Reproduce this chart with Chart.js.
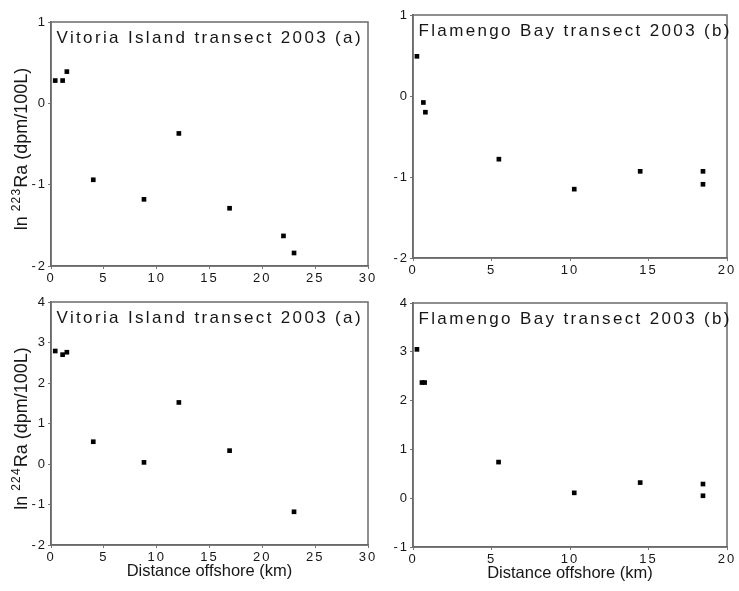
<!DOCTYPE html>
<html>
<head>
<meta charset="utf-8">
<script src="https://cdn.jsdelivr.net/npm/chart.js@4"></script>
<style>
  html, body { margin: 0; padding: 0; background: #fff; }
  body { width: 739px; height: 591px; position: relative; overflow: hidden; }
  canvas { position: absolute; }
</style>
</head>
<body>
<canvas id="vit223" width="380" height="290" style="left:0;top:0"></canvas>
<canvas id="flam223" width="369" height="290" style="left:370px;top:0"></canvas>
<canvas id="vit224" width="380" height="301" style="left:0;top:290px"></canvas>
<canvas id="flam224" width="369" height="301" style="left:370px;top:290px"></canvas>
<script>
// Distance offshore (km) and ln Ra (dpm/100L)
const vitDist223 = [0.4, 1.1, 1.5, 4.0, 8.8, 12.1, 16.9, 22.0, 23.0];
const vitRa223 = [0.28, 0.28, 0.39, -0.94, -1.18, -0.37, -1.29, -1.63, -1.84];
const vitDist224 = [0.4, 1.1, 1.5, 4.0, 8.8, 12.1, 16.9, 23.0];
const vitRa224 = [2.79, 2.70, 2.76, 0.55, 0.04, 1.52, 0.33, -1.18];

const flamDist223 = [0.25, 0.66, 0.79, 5.47, 10.27, 14.47, 18.47, 18.47];
const flamRa223 = [0.49, -0.08, -0.20, -0.78, -1.15, -0.93, -0.93, -1.09];
const flamDist224 = [0.25, 0.57, 0.74, 5.45, 10.27, 14.47, 18.47, 18.47];
const flamRa224 = [3.05, 2.37, 2.37, 0.74, 0.11, 0.32, 0.29, 0.05];

const vitTicksX = [0, 30];
const flamTicksX = [0, 20];

const fam = "'Liberation Sans', Arial, sans-serif";
const textColor = "#161616";

// frame, panel title and axis titles drawn after the chart
const panelText = {
  id: "panelText",
  beforeDraw(chart) {
    chart.ctx.letterSpacing = "2px";
  },
  afterDraw(chart, args, opts) {
    const { ctx, chartArea: a } = chart;
    ctx.save();
    ctx.strokeStyle = "#6a6a6a";
    ctx.lineWidth = 1.5;
    ctx.strokeRect(a.left, a.top, a.right - a.left, a.bottom - a.top);

    ctx.fillStyle = textColor;
    ctx.textBaseline = "alphabetic";
    ctx.textAlign = "left";
    ctx.letterSpacing = "2.35px";
    ctx.font = "17px " + fam;
    ctx.fillText(opts.title, a.left + 5.5, a.top + 20.5);

    if (opts.yTitle) {
      // "ln", raised isotope number, "Ra (dpm/100L)"
      const [pre, sup, post] = opts.yTitle;
      ctx.save();
      ctx.translate(27, (a.top + a.bottom) / 2 + 5);
      ctx.rotate(-Math.PI / 2);
      ctx.letterSpacing = "0px";
      ctx.font = "18px " + fam;
      const w1 = ctx.measureText(pre).width;
      const w3 = ctx.measureText(post).width;
      ctx.letterSpacing = "1.2px";
      ctx.font = "12px " + fam;
      const w2 = ctx.measureText(sup).width;
      let x = -(w1 + w2 + w3) / 2;
      ctx.fillText(sup, x + w1, -7);
      ctx.letterSpacing = "0px";
      ctx.font = "18px " + fam;
      ctx.fillText(pre, x, 0);
      ctx.fillText(post, x + w1 + w2, 0);
      ctx.restore();
    }
    if (opts.xTitle) {
      ctx.letterSpacing = "0px";
      ctx.font = "16.5px " + fam;
      ctx.textAlign = "center";
      ctx.fillText(opts.xTitle, (a.left + a.right) / 2, a.bottom + 31);
    }
    ctx.restore();
  }
};

function makePanel(id, dist, ra, xRange, yMin, yMax, box, text) {
  const tickFont = { family: fam, size: 13 };
  return new Chart(document.getElementById(id), {
    type: "scatter",
    data: {
      datasets: [{
        data: dist.map((d, i) => ({ x: d, y: ra[i] })),
        pointStyle: "rect",
        pointRadius: 3.3,
        borderWidth: 0,
        backgroundColor: "#000"
      }]
    },
    options: {
      responsive: false,
      animation: false,
      layout: { padding: { left: 0, top: box.top, right: box.right, bottom: 0 } },
      plugins: { legend: { display: false }, tooltip: { enabled: false }, panelText: text },
      scales: {
        x: {
          type: "linear", min: xRange[0], max: xRange[1],
          afterFit: s => { s.height = box.xH; },
          ticks: { stepSize: 5, color: textColor, font: tickFont, padding: 1.5, maxRotation: 0 },
          grid: { drawOnChartArea: false, tickLength: 3, color: "#777" },
          border: { color: "#6a6a6a", width: 1.5 }
        },
        y: {
          type: "linear", min: yMin, max: yMax,
          afterFit: s => { s.width = box.yW; },
          ticks: { stepSize: 1, color: textColor, font: tickFont, padding: 1 },
          grid: { drawOnChartArea: false, tickLength: 3, color: "#777" },
          border: { color: "#6a6a6a", width: 1.5 }
        }
      }
    },
    plugins: [panelText]
  });
}

makePanel("vit223", vitDist223, vitRa223, vitTicksX, -2, 1,
  { top: 22, right: 12, yW: 51, xH: 24 },
  { title: "Vitoria Island transect 2003 (a)", yTitle: ["ln ", "223", "Ra (dpm/100L)"] });

makePanel("flam223", flamDist223, flamRa223, flamTicksX, -2, 1,
  { top: 15, right: 12, yW: 43, xH: 32 },
  { title: "Flamengo Bay transect 2003 (b)" });

makePanel("vit224", vitDist224, vitRa224, vitTicksX, -2, 4,
  { top: 12, right: 12, yW: 51, xH: 46 },
  { title: "Vitoria Island transect 2003 (a)", yTitle: ["ln ", "224", "Ra (dpm/100L)"], xTitle: "Distance offshore (km)" });

makePanel("flam224", flamDist224, flamRa224, flamTicksX, -1, 4,
  { top: 13, right: 12, yW: 43, xH: 44 },
  { title: "Flamengo Bay transect 2003 (b)", xTitle: "Distance offshore (km)" });
</script>
</body>
</html>
